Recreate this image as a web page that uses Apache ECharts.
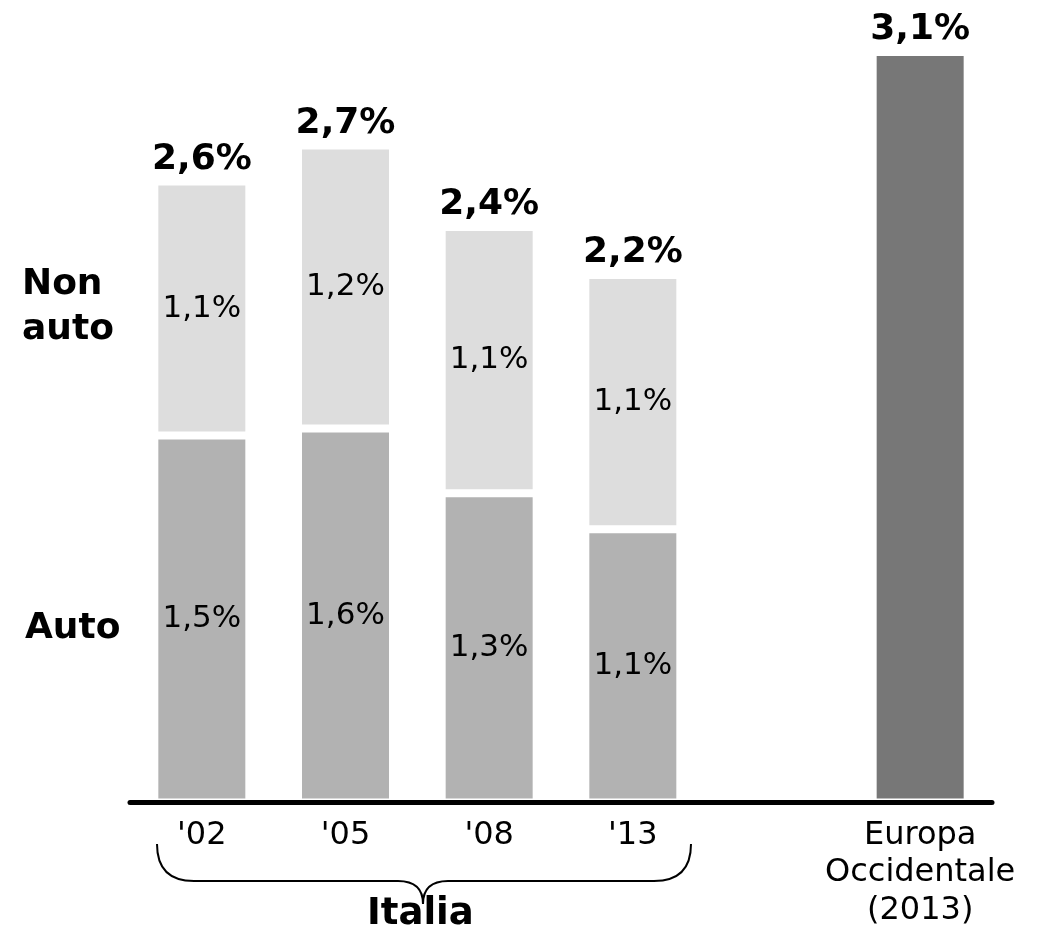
<!DOCTYPE html>
<html>
<head>
<meta charset="utf-8">
<script src="https://cdn.jsdelivr.net/npm/echarts@6/dist/echarts.min.js"></script>
<style>
html,body{margin:0;padding:0;background:#fff;}
#chart{width:1051px;height:933px;}
</style>
</head>
<body>
<div id="chart"></div>
<script>
var categories = ["'02", "'05", "'08", "'13", "", "Europa\nOccidentale\n(2013)"];
// values (labels show them rounded to one decimal)
var autoValues = [1.53, 1.56, 1.29, 1.14, null, null];
var nonAutoValues = [1.06, 1.18, 1.11, 1.06, null, null];
var europaValues = [null, null, null, null, null, 3.13];
var totalValues = categories.map(function (c, i) {
  if (europaValues[i] != null) return europaValues[i];
  if (autoValues[i] == null) return null;
  return autoValues[i] + nonAutoValues[i];
});

var FONT = 'DejaVu Sans';
function fmt(v) { return (Math.round(v * 10) / 10).toFixed(1).replace('.', ',') + '%'; }

var chart = echarts.init(document.getElementById('chart'), null, {renderer: 'canvas'});
var barStyle = function (c) { return {color: c, borderColor: '#ffffff', borderWidth: 4}; };
var innerLabel = {
  show: true, position: 'inside', fontFamily: FONT, fontSize: 31, color: '#000',
  formatter: function (p) { return fmt(p.value); }
};
var braceStyle = {stroke: '#000', lineWidth: 2, fill: null};
function curve(x1, y1, cx, cy, x2, y2) {
  return {type: 'bezierCurve', shape: {x1: x1, y1: y1, cpx1: cx, cpy1: cy, x2: x2, y2: y2}, style: braceStyle};
}
function seg(x1, y1, x2, y2) {
  return {type: 'line', shape: {x1: x1, y1: y1, x2: x2, y2: y2}, style: braceStyle};
}

chart.setOption({
  animation: false,
  backgroundColor: '#ffffff',
  grid: {left: 130, right: 59, top: 11.2, bottom: 130.5},
  xAxis: {
    type: 'category', data: categories, z: 5,
    axisLine: {show: true, lineStyle: {color: '#000', width: 5}},
    axisTick: {show: false},
    axisLabel: {fontFamily: FONT, fontSize: 32, color: '#000', lineHeight: 37.5, margin: 14, interval: 0}
  },
  yAxis: {type: 'value', min: 0, max: 3.3, show: false, splitLine: {show: false}},
  series: [
    {name: 'Auto', type: 'bar', stack: 's', barWidth: 95, data: autoValues,
     itemStyle: barStyle('#b2b2b2'), label: innerLabel},
    {name: 'Non auto', type: 'bar', stack: 's', barWidth: 95, data: nonAutoValues,
     itemStyle: barStyle('#dddddd'), label: innerLabel},
    {name: 'Europa Occidentale', type: 'bar', stack: 's', barWidth: 95, data: europaValues,
     itemStyle: barStyle('#777777'), label: {show: false}},
    {name: 'Totale', type: 'scatter', data: totalValues, symbolSize: 0, z: 10,
     itemStyle: {opacity: 1},
     label: {show: true, position: 'top', distance: 4, fontFamily: FONT, fontSize: 36,
             fontWeight: 'bold', color: '#000', opacity: 1,
             formatter: function (p) { return fmt(p.value); }}}
  ],
  graphic: [
    {type: 'text', x: 22, y: 262,
     style: {text: 'Non\nauto', font: 'bold 36px "DejaVu Sans"', lineHeight: 45, fill: '#000'}},
    {type: 'text', x: 25, y: 611,
     style: {text: 'Auto', font: 'bold 36px "DejaVu Sans"', fill: '#000'}},
    {type: 'text', x: 367, y: 896,
     style: {text: 'Italia', font: 'bold 37px "DejaVu Sans"', fill: '#000'}},
    curve(157, 844, 157, 881, 194, 881),
    seg(194, 881, 398, 881),
    curve(398, 881, 423, 881, 423, 904),
    curve(423, 904, 423, 881, 448, 881),
    seg(448, 881, 654, 881),
    curve(654, 881, 691, 881, 691, 844)
  ]
});
</script>
</body>
</html>
